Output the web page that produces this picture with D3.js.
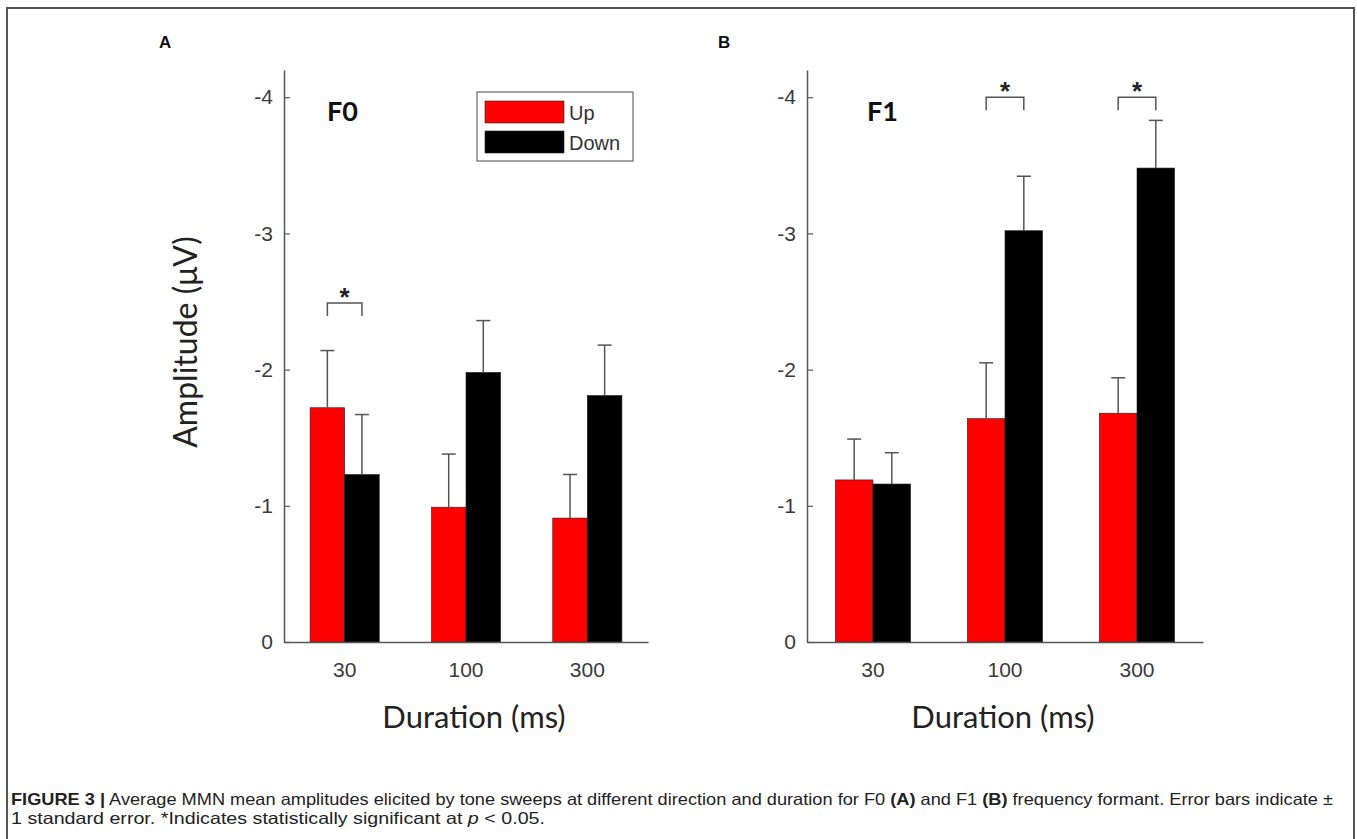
<!DOCTYPE html>
<html>
<head>
<meta charset="utf-8">
<script src="https://cdn.jsdelivr.net/npm/d3@7"></script>
<style>
  body { margin: 0; background: #fff; }
  svg { display: block; }
</style>
</head>
<body>
<div id="fig"></div>
<script>
// durations on the x axis
var durations = ["30", "100", "300"];
var series = ["Up", "Down"];
var colors = ["#ff0000", "#000000"];
var yTicks = [0, -1, -2, -3, -4];

// F0 panel (A): mean amplitude and standard error
var f0Up = [-1.72, -0.99, -0.91];
var f0UpSE = [0.42, 0.39, 0.32];
var f0Down = [-1.23, -1.98, -1.81];
var f0DownSE = [0.44, 0.38, 0.37];
var f0Sig = ["30"];

// F1 panel (B)
var f1Up = [-1.19, -1.64, -1.68];
var f1UpSE = [0.30, 0.41, 0.26];
var f1Down = [-1.16, -3.02, -3.48];
var f1DownSE = [0.23, 0.40, 0.35];
var f1Sig = ["100", "300"];

var width = 1357, height = 839;

var svg = d3.select('#fig')
  .append('svg')
  .attr('width', width)
  .attr('height', height)
  .style('font-family', '"Liberation Sans", Arial, sans-serif');

// outer frame
svg.append('path')
  .attr('d', 'M7,850 V8 H1354 V850')
  .attr('fill', 'none')
  .attr('stroke', '#555')
  .attr('stroke-width', 2);

var panels = [
  { letter: 'A', name: 'F0', up: f0Up, upSE: f0UpSE, down: f0Down, downSE: f0DownSE, sig: f0Sig,
    x0: 284, x1: 648, letterX: 159, nameX: 327, xlabX: 474, sigY: -2.49, legend: true, ylabel: true },
  { letter: 'B', name: 'F1', up: f1Up, upSE: f1UpSE, down: f1Down, downSE: f1DownSE, sig: f1Sig,
    x0: 807, x1: 1203, letterX: 718, nameX: 867, xlabX: 1003, sigY: -4.0, legend: false, ylabel: false }
];

var y = d3.scaleLinear()
  .domain([0, -4.2])
  .range([642, 70]);

panels.forEach(function(p) {
  var g = svg.append('g');

  var x = d3.scaleBand()
    .domain(durations)
    .range([p.x0, p.x1])
    .padding(0);

  var groupW = x.bandwidth() * 0.57;
  var x2 = d3.scaleBand()
    .domain(series)
    .range([-groupW / 2, groupW / 2]);

  var rows = durations.map(function(d, i) {
    return [
      { dur: d, s: 'Up', v: p.up[i], se: p.upSE[i] },
      { dur: d, s: 'Down', v: p.down[i], se: p.downSE[i] }
    ];
  });
  var flat = [].concat.apply([], rows);

  // bars
  g.selectAll('rect.bar')
    .data(flat)
    .enter()
    .append('rect')
    .attr('class', 'bar')
    .attr('x', function(d) { return x(d.dur) + x.bandwidth() / 2 + x2(d.s); })
    .attr('width', x2.bandwidth())
    .attr('y', function(d) { return y(d.v); })
    .attr('height', function(d) { return y(0) - y(d.v); })
    .attr('fill', function(d) { return colors[series.indexOf(d.s)]; })
    .attr('stroke', '#222')
    .attr('stroke-width', 0.6);

  // error bars (one-sided, away from zero)
  var cx = function(d) { return x(d.dur) + x.bandwidth() / 2 + x2(d.s) + x2.bandwidth() / 2; };
  g.selectAll('line.err')
    .data(flat)
    .enter()
    .append('line')
    .attr('x1', cx).attr('x2', cx)
    .attr('y1', function(d) { return y(d.v); })
    .attr('y2', function(d) { return y(d.v - d.se); })
    .attr('stroke', '#555')
    .attr('stroke-width', 1.5);
  g.selectAll('line.cap')
    .data(flat)
    .enter()
    .append('line')
    .attr('x1', function(d) { return cx(d) - 7; })
    .attr('x2', function(d) { return cx(d) + 7; })
    .attr('y1', function(d) { return y(d.v - d.se); })
    .attr('y2', function(d) { return y(d.v - d.se); })
    .attr('stroke', '#555')
    .attr('stroke-width', 1.5);

  // axes
  var yAxis = d3.axisLeft(y)
    .tickValues(yTicks)
    .tickSizeInner(-6)
    .tickSizeOuter(0)
    .tickPadding(11)
    .tickFormat(function(d) { return String(d); });
  var ya = g.append('g')
    .attr('transform', 'translate(' + p.x0 + ',0)')
    .call(yAxis);

  var xAxis = d3.axisBottom(x)
    .tickSize(0)
    .tickPadding(20);
  var xa = g.append('g')
    .attr('transform', 'translate(0,' + y(0) + ')')
    .call(xAxis);

  [ya, xa].forEach(function(a) {
    a.select('.domain').attr('stroke', '#555').attr('stroke-width', 1.5);
    a.selectAll('.tick line').attr('stroke', '#555').attr('stroke-width', 1.2);
    a.selectAll('.tick text')
      .attr('fill', '#3a3a3a')
      .style('font-size', '21px')
      .style('font-family', '"Liberation Sans", Arial, sans-serif');
  });

  // significance brackets
  p.sig.forEach(function(d) {
    var xa1 = x(d) + x.bandwidth() / 2 + x2('Up') + x2.bandwidth() / 2;
    var xb1 = x(d) + x.bandwidth() / 2 + x2('Down') + x2.bandwidth() / 2;
    var yt = y(p.sigY);
    g.append('path')
      .attr('d', 'M' + xa1 + ',' + (yt + 13) + 'V' + yt + 'H' + xb1 + 'V' + (yt + 13))
      .attr('fill', 'none')
      .attr('stroke', '#555')
      .attr('stroke-width', 1.5);
    g.append('text')
      .attr('x', (xa1 + xb1) / 2)
      .attr('y', yt + 3)
      .attr('text-anchor', 'middle')
      .style('font-size', '26px')
      .style('font-weight', 'bold')
      .attr('fill', '#222')
      .text('*');
  });

  // panel letter and title
  svg.append('text')
    .attr('x', p.letterX).attr('y', 48)
    .style('font-size', '17px').style('font-weight', 'bold')
    .attr('fill', '#111')
    .text(p.letter);
  g.append('text')
    .attr('x', p.nameX).attr('y', 121)
    .style('font-family', 'Lato, "Open Sans", sans-serif')
    .style('font-size', '27px').style('font-weight', 'bold')
    .attr('fill', '#111')
    .text(p.name);

  // x label
  g.append('text')
    .attr('x', p.xlabX).attr('y', 728)
    .attr('text-anchor', 'middle')
    .style('font-family', 'Lato, "Open Sans", sans-serif')
    .style('font-size', '31px')
    .attr('fill', '#222')
    .text('Duration (ms)');

  if (p.ylabel) {
    g.append('text')
      .attr('transform', 'translate(197,342) rotate(-90)')
      .attr('text-anchor', 'middle')
      .style('font-family', 'Lato, "Open Sans", sans-serif')
      .style('font-size', '32px')
      .attr('fill', '#222')
      .text('Amplitude (\u03bcV)');
  }

  if (p.legend) {
    var lg = g.append('g');
    lg.append('rect')
      .attr('x', 477).attr('y', 92)
      .attr('width', 156).attr('height', 69)
      .attr('fill', '#fff')
      .attr('stroke', '#666')
      .attr('stroke-width', 1.2);
    series.forEach(function(s, i) {
      lg.append('rect')
        .attr('x', 485).attr('y', 101 + i * 30)
        .attr('width', 79).attr('height', 22)
        .attr('fill', colors[i])
        .attr('stroke', '#222').attr('stroke-width', 0.6);
      lg.append('text')
        .attr('x', 569).attr('y', 120 + i * 30)
        .style('font-size', '20px')
        .attr('fill', '#333')
        .text(s);
    });
  }
});

// caption
var cap1 = svg.append('text')
  .attr('x', 11).attr('y', 805)
  .attr('textLength', 1322)
  .attr('lengthAdjust', 'spacingAndGlyphs')
  .style('font-size', '16.5px')
  .attr('fill', '#222');
cap1.append('tspan').style('font-weight', 'bold').text('FIGURE 3 |');
cap1.append('tspan').text(' Average MMN mean amplitudes elicited by tone sweeps at different direction and duration for F0 ');
cap1.append('tspan').style('font-weight', 'bold').text('(A)');
cap1.append('tspan').text(' and F1 ');
cap1.append('tspan').style('font-weight', 'bold').text('(B)');
cap1.append('tspan').text(' frequency formant. Error bars indicate \u00b1');

var cap2 = svg.append('text')
  .attr('x', 11).attr('y', 824)
  .attr('textLength', 534)
  .attr('lengthAdjust', 'spacingAndGlyphs')
  .style('font-size', '16.5px')
  .attr('fill', '#222');
cap2.append('tspan').text('1 standard error. *Indicates statistically significant at ');
cap2.append('tspan').style('font-style', 'italic').text('p');
cap2.append('tspan').text(' < 0.05.');
</script>
</body>
</html>
